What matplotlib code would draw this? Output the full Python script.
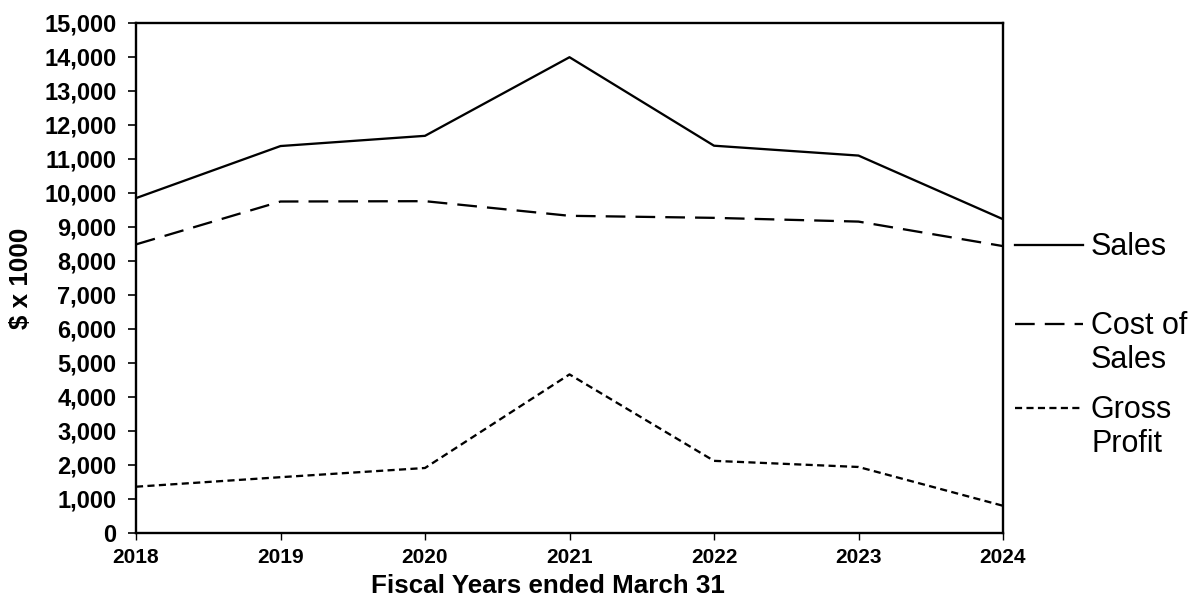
import matplotlib.pyplot as plt
from matplotlib.lines import Line2D
from matplotlib.ticker import FuncFormatter

plt.rcParams['font.family'] = ['Liberation Sans', 'DejaVu Sans']

years = [2018, 2019, 2020, 2021, 2022, 2023, 2024]
sales = [9840, 11370, 11670, 13980, 11380, 11090, 9220]
cost_of_sales = [8480, 9740, 9750, 9320, 9260, 9150, 8430]
gross_profit = [1360, 1640, 1910, 4660, 2120, 1940, 800]

series_names = ["Sales", "Cost of\nSales", "Gross\nProfit"]

fig = plt.figure(figsize=(11.91, 6.0), dpi=100)
ax = fig.add_axes([136 / 1191, 1 - 533 / 600, 867 / 1191, 510.5 / 600])

styles = [
    dict(linestyle='-'),
    dict(linestyle=(0, (8.6, 4.4))),
    dict(linestyle=(0, (3.1, 1.9))),
]
for vals, st in zip([sales, cost_of_sales, gross_profit], styles):
    ax.plot(years, vals, color='black', linewidth=1.65, **st)

ax.set_xlim(2018, 2024)
ax.set_ylim(0, 15000)
ax.set_xticks(years)
ax.set_yticks(range(0, 15001, 1000))
ax.yaxis.set_major_formatter(FuncFormatter(lambda v, p: f"{int(v):,}"))

for s in ax.spines.values():
    s.set_linewidth(1.7)
ax.tick_params(axis='y', length=6, width=1.2, pad=8, labelsize=17)
ax.tick_params(axis='x', length=5, width=1.0, pad=6, labelsize=15)
for lab in ax.get_xticklabels() + ax.get_yticklabels():
    lab.set_fontweight('bold')

fig.text(548 / 1191, 1 - 586 / 600, "Fiscal Years ended March 31",
         ha='center', va='center', fontsize=18.7, fontweight='bold')
fig.text(21 / 1191, 1 - 278 / 600, "$ x 1000", rotation=90,
         ha='center', va='center', fontsize=18.7, fontweight='bold')

# legend drawn by hand, handle aligned with first text line
legend_y = [245, 324, 408]
for name, st, y in zip(series_names, styles, legend_y):
    yf = 1 - y / 600
    fig.add_artist(Line2D([1015 / 1191, 1083 / 1191], [yf, yf],
                          color='black', linewidth=1.65, **st))
    fig.text(1091 / 1191, yf + 13 / 600, name, ha='left', va='top',
             fontsize=22, linespacing=1.18)

fig.savefig("out.png", dpi=100)
